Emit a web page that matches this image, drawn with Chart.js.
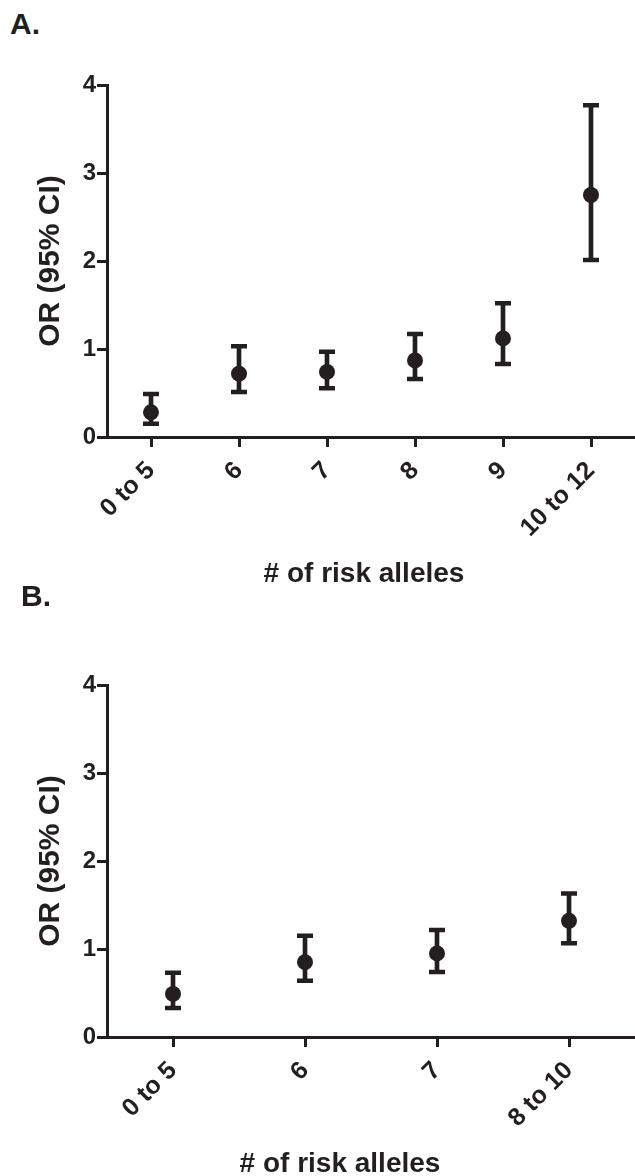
<!DOCTYPE html>
<html>
<head>
<meta charset="utf-8">
<script src="https://cdn.jsdelivr.net/npm/chart.js@4.4.1/dist/chart.umd.min.js"></script>
<style>
  body { margin: 0; background: #fff; }
  #wrap { position: relative; width: 635px; height: 1176px; overflow: hidden; }
  canvas { position: absolute; left: 0; }
  .tag { position: absolute; font: bold 30px "Liberation Sans", Arial, sans-serif; color: #231f20; }
</style>
</head>
<body>
<div id="wrap">
  <div class="tag" style="left:10px;top:7px">A.</div>
  <canvas id="chartA" width="635" height="600" style="top:0"></canvas>
  <div class="tag" style="left:21px;top:579px">B.</div>
  <canvas id="chartB" width="635" height="576" style="top:600px"></canvas>
</div>
<script>
// panel A
const labelsA = ['0 to 5', '6', '7', '8', '9', '10 to 12'];
const orA = [0.28, 0.72, 0.74, 0.87, 1.12, 2.75];
const lowA = [0.15, 0.51, 0.555, 0.66, 0.83, 2.01];
const highA = [0.49, 1.03, 0.97, 1.17, 1.52, 3.77];

// panel B
const labelsB = ['0 to 5', '6', '7', '8 to 10'];
const orB = [0.49, 0.85, 0.95, 1.32];
const lowB = [0.33, 0.64, 0.74, 1.065];
const highB = [0.73, 1.15, 1.215, 1.63];

const yTicks = [0, 1, 2, 3, 4];

const INK = '#231f20';
const FONT = '"Liberation Sans", Arial, sans-serif';

// x axis title, placed by hand like the original figure
const xTitle = {
  id: 'xTitle',
  afterDraw(chart, args, opts) {
    const ctx = chart.ctx;
    ctx.save();
    ctx.font = 'bold 28px ' + FONT;
    ctx.fillStyle = INK;
    ctx.textAlign = 'center';
    ctx.textBaseline = 'alphabetic';
    ctx.fillText(opts.text, opts.x, opts.y);
    ctx.restore();
  }
};

function makeChart(id, labels, or, low, high, xHeight, titleX, titleY) {
  const ctx = document.getElementById(id).getContext('2d');
  const axisGrid = {
    display: true,
    drawOnChartArea: false,
    offset: false,
    tickLength: 10,
    tickWidth: 3,
    tickColor: INK,
    color: INK
  };
  const axisBorder = { display: true, color: INK, width: 3 };
  const cap = {
    type: 'line',
    showLine: false,
    pointStyle: 'line',
    pointRadius: 8,
    pointHoverRadius: 8,
    pointBorderWidth: 4.5,
    pointBorderColor: INK,
    order: 2
  };
  return new Chart(ctx, {
    type: 'bar',
    data: {
      labels: labels,
      datasets: [
        {
          type: 'bar',
          data: low.map((l, i) => [l, high[i]]),
          backgroundColor: INK,
          barThickness: 4,
          order: 3
        },
        Object.assign({ data: high }, cap),
        Object.assign({ data: low }, cap),
        {
          type: 'line',
          data: or,
          showLine: false,
          pointStyle: 'circle',
          pointRadius: 8,
          pointHoverRadius: 8,
          pointBackgroundColor: INK,
          pointBorderColor: INK,
          pointBorderWidth: 0,
          order: 1
        }
      ]
    },
    options: {
      responsive: false,
      animation: false,
      events: [],
      layout: { autoPadding: false, padding: { top: 85, left: 0, right: 0, bottom: 0 } },
      plugins: {
        legend: { display: false },
        tooltip: { enabled: false },
        xTitle: { text: '# of risk alleles', x: titleX, y: titleY }
      },
      scales: {
        x: {
          type: 'category',
          offset: true,
          grid: axisGrid,
          border: axisBorder,
          ticks: {
            color: INK,
            font: { family: FONT, size: 25, weight: 'bold' },
            minRotation: 45,
            maxRotation: 45,
            autoSkip: false,
            padding: 9
          },
          afterFit: s => {
            s.height = xHeight;
            s.paddingLeft = 0;
            s.paddingRight = 0;
          }
        },
        y: {
          min: 0,
          max: 4,
          afterBuildTicks: s => { s.ticks = yTicks.map(v => ({ value: v })); },
          grid: axisGrid,
          border: axisBorder,
          ticks: {
            color: INK,
            font: { family: FONT, size: 24, weight: 'bold' },
            padding: 1
          },
          title: {
            display: true,
            text: 'OR (95% CI)',
            color: INK,
            font: { family: FONT, size: 30, weight: 'bold' },
            padding: { top: 33, bottom: 0 }
          },
          afterFit: s => {
            s.width = 107;
            s.paddingTop = 0;
            s.paddingBottom = 0;
          }
        }
      }
    },
    plugins: [xTitle]
  });
}

makeChart('chartA', labelsA, orA, lowA, highA, 163, 364, 582);
makeChart('chartB', labelsB, orB, lowB, highB, 139, 340, 572);
</script>
</body>
</html>
